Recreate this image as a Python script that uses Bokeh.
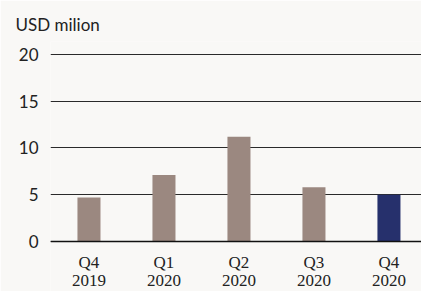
from bokeh.plotting import figure
from bokeh.models import Range1d, FixedTicker, ColumnDataSource, Span
from bokeh.embed import file_html
from bokeh.resources import INLINE

categories = ["Q4\n2019", "Q1\n2020", "Q2\n2020", "Q3\n2020", "Q4\n2020"]
values = [4.7, 7.1, 11.2, 5.8, 5.0]
colors = ["#9b8880", "#9b8880", "#9b8880", "#9b8880", "#26306c"]
y_ticks = [0, 5, 10, 15, 20]

xs = list(range(len(categories)))
src = ColumnDataSource(dict(x=xs, top=values, color=colors,
                            base=[0] * len(xs), label=categories))

BG = "#f9f8f6"
FONT = "Lato"

p = figure(width=421, height=291, output_backend="svg", toolbar_location=None,
           x_range=Range1d(-0.513, 4.434), y_range=Range1d(-5.35, 21.39),
           min_border_left=50, min_border_right=0, min_border_top=41, min_border_bottom=0,
           background_fill_color=BG, border_fill_color=BG, outline_line_color=None,
           title="USD milion")

p.title.text_font = FONT
p.title.text_font_size = "17px"
p.title.text_font_style = "normal"
p.title.text_color = "#222222"
p.title.align = "left"
p.title.offset = -35
p.title.standoff = 14

p.vbar(x="x", top="top", bottom="base", width=0.307, color="color", source=src, line_color=None)

p.xgrid.grid_line_color = None
p.ygrid.ticker = FixedTicker(ticks=y_ticks)
p.ygrid.grid_line_color = "#2a2a2a"
p.ygrid.grid_line_width = 1

p.add_layout(Span(location=0, dimension="width", line_color="#111111", line_width=1.5))

p.text(x="x", y="base", text="label", source=src, y_offset=12,
       text_font=FONT, text_font_size="17px", text_color="#222222",
       text_align="center", text_baseline="top", text_line_height=0.94)

p.yaxis.ticker = FixedTicker(ticks=y_ticks)
p.yaxis.axis_line_color = None
p.yaxis.major_tick_line_color = None
p.yaxis.minor_tick_line_color = None
p.yaxis.major_label_standoff = 6
p.yaxis.major_label_text_font = FONT
p.yaxis.major_label_text_font_size = "17px"
p.yaxis.major_label_text_color = "#222222"

p.xaxis.visible = False

open("out.html", "w").write(file_html(p, INLINE))
